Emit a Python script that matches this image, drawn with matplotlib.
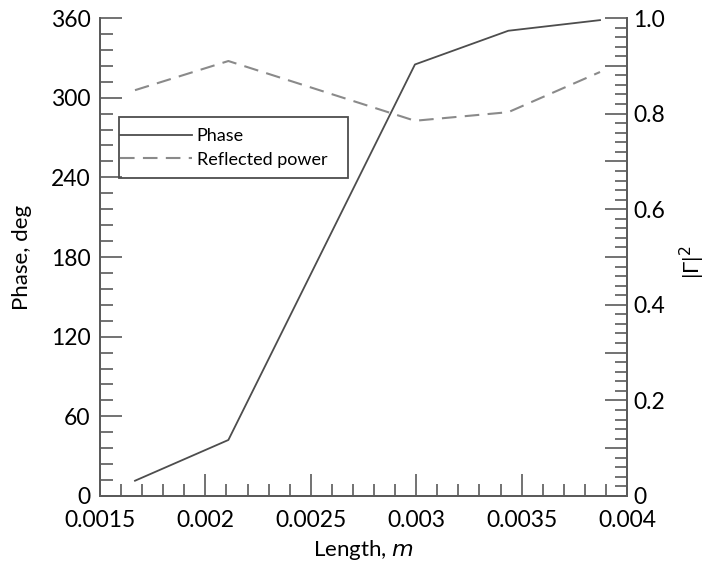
import matplotlib
matplotlib.use("Agg")
import matplotlib.pyplot as plt
from matplotlib.ticker import MultipleLocator, FixedLocator
from matplotlib.patches import Rectangle

plt.rcParams['font.family'] = ['Lato', 'DejaVu Sans']

# Line length sweep and the resulting phase / reflected power
length_m = [0.001666, 0.002109, 0.002994, 0.003437, 0.003872]
phase_deg = [11.5, 42.2, 325.0, 350.4, 358.4]
refl_power = [0.849, 0.910, 0.785, 0.803, 0.887]

x_ticks = [0.0015, 0.002, 0.0025, 0.003, 0.0035, 0.004]
x_tick_labels = ["0.0015", "0.002", "0.0025", "0.003", "0.0035", "0.004"]
phase_ticks = [0, 60, 120, 180, 240, 300, 360]
power_ticks = [0, 0.1, 0.2, 0.3, 0.4, 0.5, 0.6, 0.7, 0.8, 0.9, 1.0]
power_tick_labels = ["0", "", "0.2", "", "0.4", "", "0.6", "", "0.8", "", "1.0"]

W, H = 707, 564
L, R, B, T = 100, 627, 68, 546  # axes box in pixels (from the bottom-left)
aw, ah = R - L, T - B

spine_col = "#5a5a5a"
fig = plt.figure(figsize=(W / 100, H / 100), dpi=100)
ax = fig.add_axes([L / W, B / H, aw / W, ah / H])
ax2 = ax.twinx()

l1, = ax.plot(length_m, phase_deg, color="#4d4d4d", lw=1.3, label="Phase")
l2, = ax2.plot(length_m, refl_power, color="#8a8a8a", lw=1.5,
               dashes=(7, 4), label="Reflected power")

ax.set_xlim(0.0015, 0.004)
ax.set_ylim(0, 360)
ax2.set_ylim(0, 1.0)

ax.set_xticks(x_ticks)
ax.set_xticklabels(x_tick_labels)
ax.xaxis.set_minor_locator(MultipleLocator(0.0001))
ax.set_yticks(phase_ticks)
ax.yaxis.set_minor_locator(MultipleLocator(12))
ax2.set_yticks(power_ticks)
ax2.set_yticklabels(power_tick_labels)
ax2.yaxis.set_minor_locator(FixedLocator([i * 0.02 for i in range(51)]))

for a in (ax, ax2):
    a.spines['top'].set_visible(False)
    for s in ('left', 'right', 'bottom'):
        a.spines[s].set_color(spine_col)
        a.spines[s].set_linewidth(1.3)
    a.tick_params(which='both', direction='in', color=spine_col, width=1.2,
                  labelsize=16.5, labelcolor="black")
    a.tick_params(which='major', length=16)
    a.tick_params(which='minor', length=9)

ax.tick_params(axis='x', which='both', top=False, pad=10)
ax.tick_params(axis='y', which='both', left=True, right=False, pad=7)
ax2.tick_params(axis='y', which='both', left=False, right=True, pad=4.5)

ax.set_xlabel("Length, $\\it{m}$", fontsize=16)
ax.xaxis.set_label_coords(0.5, -(538 - 496) / ah)
ax.set_ylabel("Phase, deg", fontsize=16)
ax.yaxis.set_label_coords(-(100 - 22) / aw, 0.5)
ax.yaxis.label.set_va('center')
ax2.set_ylabel("|Γ|$^2$", fontsize=16)
ax2.yaxis.set_label_coords((692 - 100) / aw, 0.49)
ax2.yaxis.label.set_va('center')

# legend box drawn separately so the sample lines can sit against its edge
leg = ax.legend(handles=[l1, l2], loc='upper left',
                bbox_to_anchor=(20 / aw, 1 - (128 - 18) / ah),
                fontsize=13, frameon=False,
                handlelength=4.0, handletextpad=0.25, borderaxespad=0,
                borderpad=0, labelspacing=0.42)
ax.add_patch(Rectangle((19 / aw, 1 - (178 - 18) / ah), 229 / aw, 61 / ah,
                       transform=ax.transAxes, fill=False,
                       edgecolor="#4d4d4d", lw=1.3, zorder=5))

fig.savefig("out.png", dpi=100)
